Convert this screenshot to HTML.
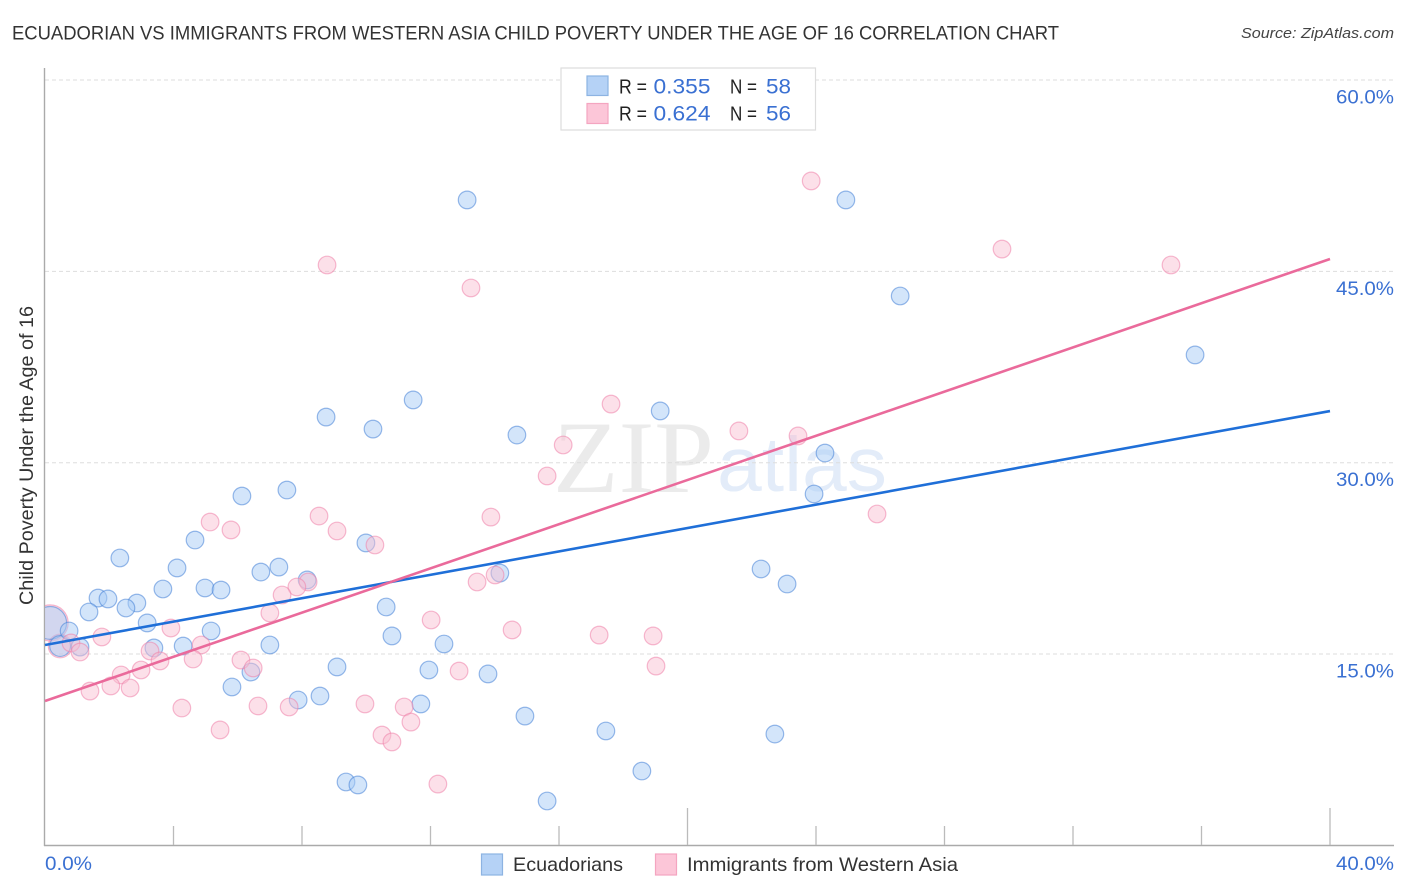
<!DOCTYPE html>
<html lang="en">
<head>
<meta charset="utf-8">
<title>Ecuadorian vs Immigrants from Western Asia Child Poverty Chart</title>
<style>
html,body{margin:0;padding:0;background:#fff;}
body{width:1406px;height:892px;overflow:hidden;}
svg{display:block;font-family:"Liberation Sans",sans-serif;}
</style>
</head>
<body>
<svg id="chart" xmlns="http://www.w3.org/2000/svg" width="1406" height="892" viewBox="0 0 1406 892">
  <defs>
    <clipPath id="plot-clip"><rect x="45" y="60" width="1349" height="785"/></clipPath>
  </defs>
  <text x="12" y="39.500" font-size="19.500" fill="#333" textLength="1047" lengthAdjust="spacingAndGlyphs">ECUADORIAN VS IMMIGRANTS FROM WESTERN ASIA CHILD POVERTY UNDER THE AGE OF 16 CORRELATION CHART</text>
  <text x="1241" y="38" font-size="15" font-style="italic" fill="#444" textLength="153" lengthAdjust="spacingAndGlyphs">Source: ZipAtlas.com</text>
  <text transform="translate(33,455.500) rotate(-90)" font-size="19" fill="#333" text-anchor="middle" textLength="299" lengthAdjust="spacingAndGlyphs">Child Poverty Under the Age of 16</text>
  <g>
    <text x="553" y="492" font-family="'Liberation Serif',serif" font-size="103" fill="#ebebeb" textLength="161" lengthAdjust="spacingAndGlyphs">ZIP</text>
    <text x="717" y="491" font-family="'Liberation Sans',sans-serif" font-size="77" fill="#e3ecf9" textLength="170" lengthAdjust="spacingAndGlyphs" style="font-family:'Liberation Sans',sans-serif">atlas</text>
  </g>
  <g id="grid"></g>
  <g id="axes"></g>
  <g id="points" clip-path="url(#plot-clip)"></g>
  <g id="lines"></g>
  <g>
    <rect x="561" y="68" width="254.500" height="62" fill="#fff" stroke="#ddd" stroke-width="1.200"/>
    <rect x="587" y="76" width="21" height="19.500" fill="#b5d2f6" stroke="#8db3e2" stroke-width="1.200"/>
    <rect x="587" y="103.500" width="21" height="20" fill="#fcc6d8" stroke="#f4a5c0" stroke-width="1.200"/>
    <g font-size="20" fill="#222">
      <text x="619" y="93.500" textLength="28" lengthAdjust="spacingAndGlyphs">R =</text>
      <text x="730" y="93.500" textLength="27" lengthAdjust="spacingAndGlyphs">N =</text>
      <text x="619" y="120.500" textLength="28" lengthAdjust="spacingAndGlyphs">R =</text>
      <text x="730" y="120.500" textLength="27" lengthAdjust="spacingAndGlyphs">N =</text>
    </g>
    <g font-size="21" fill="#3a70d2">
      <text x="653.500" y="93.500" textLength="57" lengthAdjust="spacingAndGlyphs">0.355</text>
      <text x="766" y="93.500" textLength="25" lengthAdjust="spacingAndGlyphs">58</text>
      <text x="653.500" y="120.500" textLength="57" lengthAdjust="spacingAndGlyphs">0.624</text>
      <text x="766" y="120.500" textLength="25" lengthAdjust="spacingAndGlyphs">56</text>
    </g>
  </g>
  <g>
    <rect x="481.500" y="854" width="21" height="21" fill="#b5d2f6" stroke="#8db3e2" stroke-width="1.200"/>
    <text x="513" y="871" font-size="19.500" fill="#333" textLength="110" lengthAdjust="spacingAndGlyphs">Ecuadorians</text>
    <rect x="655.500" y="854" width="21" height="21" fill="#fcc6d8" stroke="#f4a5c0" stroke-width="1.200"/>
    <text x="687" y="871" font-size="19.500" fill="#333" textLength="271" lengthAdjust="spacingAndGlyphs">Immigrants from Western Asia</text>
  </g>
</svg>
<script>
const ecuadorianX = [13.14,24.93,26.62,35.80,11.46,8.75,10.21,19.15,14.69,24.28,23.94,6.13,7.53,2.33,4.67,9.99,4.11,7.28,6.72,8.16,3.67,4.98,5.48,22.29,23.10,14.16,1.65,1.96,2.86,2.52,10.62,1.37,3.18,0.75,5.17,10.80,7.00,12.42,4.30,3.39,1.09,9.09,11.95,13.79,6.41,5.82,8.56,7.88,11.70,14.94,17.46,22.72,18.58,9.37,9.74,15.63];
const ecuadorianY = [50.60,50.60,43.07,38.45,34.92,33.58,32.64,34.06,32.17,30.76,27.55,27.39,27.86,22.53,23.94,23.71,21.75,21.82,21.43,20.81,20.10,20.18,20.02,21.67,20.49,21.35,19.39,19.32,19.00,18.61,18.69,18.30,17.44,16.81,16.81,16.42,15.71,15.79,15.63,15.48,15.55,13.99,13.75,13.44,13.59,12.42,11.71,11.40,11.09,10.14,8.97,8.73,5.83,4.97,4.74,3.48];
const immigrantX = [23.85,29.79,35.05,8.78,13.26,17.62,21.60,23.44,16.13,15.63,25.90,13.88,5.14,8.53,5.79,9.09,10.27,13.45,14.01,8.19,7.84,7.38,7.00,12.02,14.54,17.25,18.93,3.92,1.77,4.86,0.81,1.09,3.27,3.58,4.61,6.10,6.48,19.02,12.89,2.99,2.37,2.05,1.40,2.65,4.26,6.63,7.60,9.96,11.18,5.45,11.39,10.49,10.80,12.23];
const immigrantY = [52.09,46.75,45.50,45.50,43.70,34.60,32.49,32.10,31.39,28.96,25.98,25.74,25.35,25.82,24.73,24.65,23.55,20.65,21.20,20.65,20.26,19.63,18.22,17.67,16.89,16.49,16.42,17.04,16.34,15.71,15.87,15.16,15.24,14.46,14.61,14.53,13.91,14.06,13.67,13.75,13.36,12.50,12.10,12.34,10.77,10.93,10.85,11.09,10.85,9.05,9.67,8.65,8.11,4.81];
const ecuadorianClusterX = [0.16,0.47];
const ecuadorianClusterY = [17.44,15.63];
const ecuadorianClusterWeight = [3.5,1.4];
const immigrantClusterX = [0.16,0.47];
const immigrantClusterY = [17.44,15.63];
const immigrantClusterWeight = [4.2,1.8];
const trendX = [0,40];
const ecuadorianTrend = [15.71,34.05];
const immigrantTrend = [11.32,45.97];
const yTicks = [15,30,45,60];
const yTickLabels = ['15.0%','30.0%','45.0%','60.0%'];
const xTicks = [0,4,8,12,16,20,24,28,32,36,40];
const xMajorTicks = [20,40];
const xEndTicks = [0,40];
const xEndLabels = ['0.0%','40.0%'];

const NS = 'http://www.w3.org/2000/svg';
const xScale = v => 45 + v * 32.125;
const yScale = v => 845.4 - v * 12.756;
const make = (parent, tag, attrs) => {
  const el = document.createElementNS(NS, tag);
  for (const k in attrs) el.setAttribute(k, attrs[k]);
  parent.appendChild(el);
  return el;
};
const grid = document.getElementById('grid');
const axes = document.getElementById('axes');
const points = document.getElementById('points');
const lines = document.getElementById('lines');

yTicks.forEach((t, i) => {
  const g = make(grid, 'line', {x1: 45, x2: 1394, y1: yScale(t), y2: yScale(t), stroke: '#ddd', 'stroke-width': 1, 'stroke-dasharray': '4 3'});
  
  
  const l = make(axes, 'text', {x: 1336, y: yScale(t) + 23.5, 'font-size': 19.5, fill: '#3a70d2', textLength: 58, lengthAdjust: 'spacingAndGlyphs'});
  l.textContent = yTickLabels[i];
  
  
});

const yAxis = make(axes, 'line', {x1: 44.5, x2: 44.5, y1: 68, y2: 846, stroke: '#aaa', 'stroke-width': 1.4});


const xAxis = make(axes, 'line', {x1: 44, x2: 1394, y1: 845.5, y2: 845.5, stroke: '#aaa', 'stroke-width': 1.4});



xTicks.slice(1).forEach(t => {
  const top = xMajorTicks.includes(t) ? 808 : 826;
  const m = make(axes, 'line', {x1: xScale(t), x2: xScale(t), y1: top, y2: 845, stroke: '#bbb', 'stroke-width': 1.3});
  
  
});
xEndTicks.forEach((t, i) => {
  const l = make(axes, 'text', {x: i === 0 ? xScale(t) : 1336, y: 870, 'font-size': 19.5, fill: '#3a70d2', textLength: i === 0 ? 47 : 58, lengthAdjust: 'spacingAndGlyphs'});
  l.textContent = xEndLabels[i];
  
  
});

const blueStyle = {fill: 'rgba(168,203,245,0.5)', stroke: 'rgba(70,130,215,0.55)', 'stroke-width': 1.2};
const pinkStyle = {fill: 'rgba(249,190,210,0.48)', stroke: 'rgba(238,130,170,0.55)', 'stroke-width': 1.2};
const baseRadius = 8.8;

function drawCluster(xs, ys, ws, style) {
  xs.forEach((x, i) => {
    const c = make(points, 'circle', Object.assign({cx: xScale(x), cy: yScale(ys[i]), r: baseRadius * Math.sqrt(ws[i])}, style));
    
    
  });
}
function drawSeries(xs, ys, style) {
  xs.forEach((x, i) => {
    const c = make(points, 'circle', Object.assign({cx: xScale(x), cy: yScale(ys[i]), r: baseRadius}, style));
    
    
  });
}
drawCluster(immigrantClusterX, immigrantClusterY, immigrantClusterWeight, pinkStyle);
drawCluster(ecuadorianClusterX, ecuadorianClusterY, ecuadorianClusterWeight, blueStyle);
drawSeries(ecuadorianX, ecuadorianY, blueStyle);
drawSeries(immigrantX, immigrantY, pinkStyle);

const blueLine = make(lines, 'line', {x1: xScale(trendX[0]), y1: yScale(ecuadorianTrend[0]), x2: xScale(trendX[1]), y2: yScale(ecuadorianTrend[1]), stroke: '#1f6fd8', 'stroke-width': 2.6});


const pinkLine = make(lines, 'line', {x1: xScale(trendX[0]), y1: yScale(immigrantTrend[0]), x2: xScale(trendX[1]), y2: yScale(immigrantTrend[1]), stroke: '#ea6a9b', 'stroke-width': 2.6});


</script>
</body>
</html>
